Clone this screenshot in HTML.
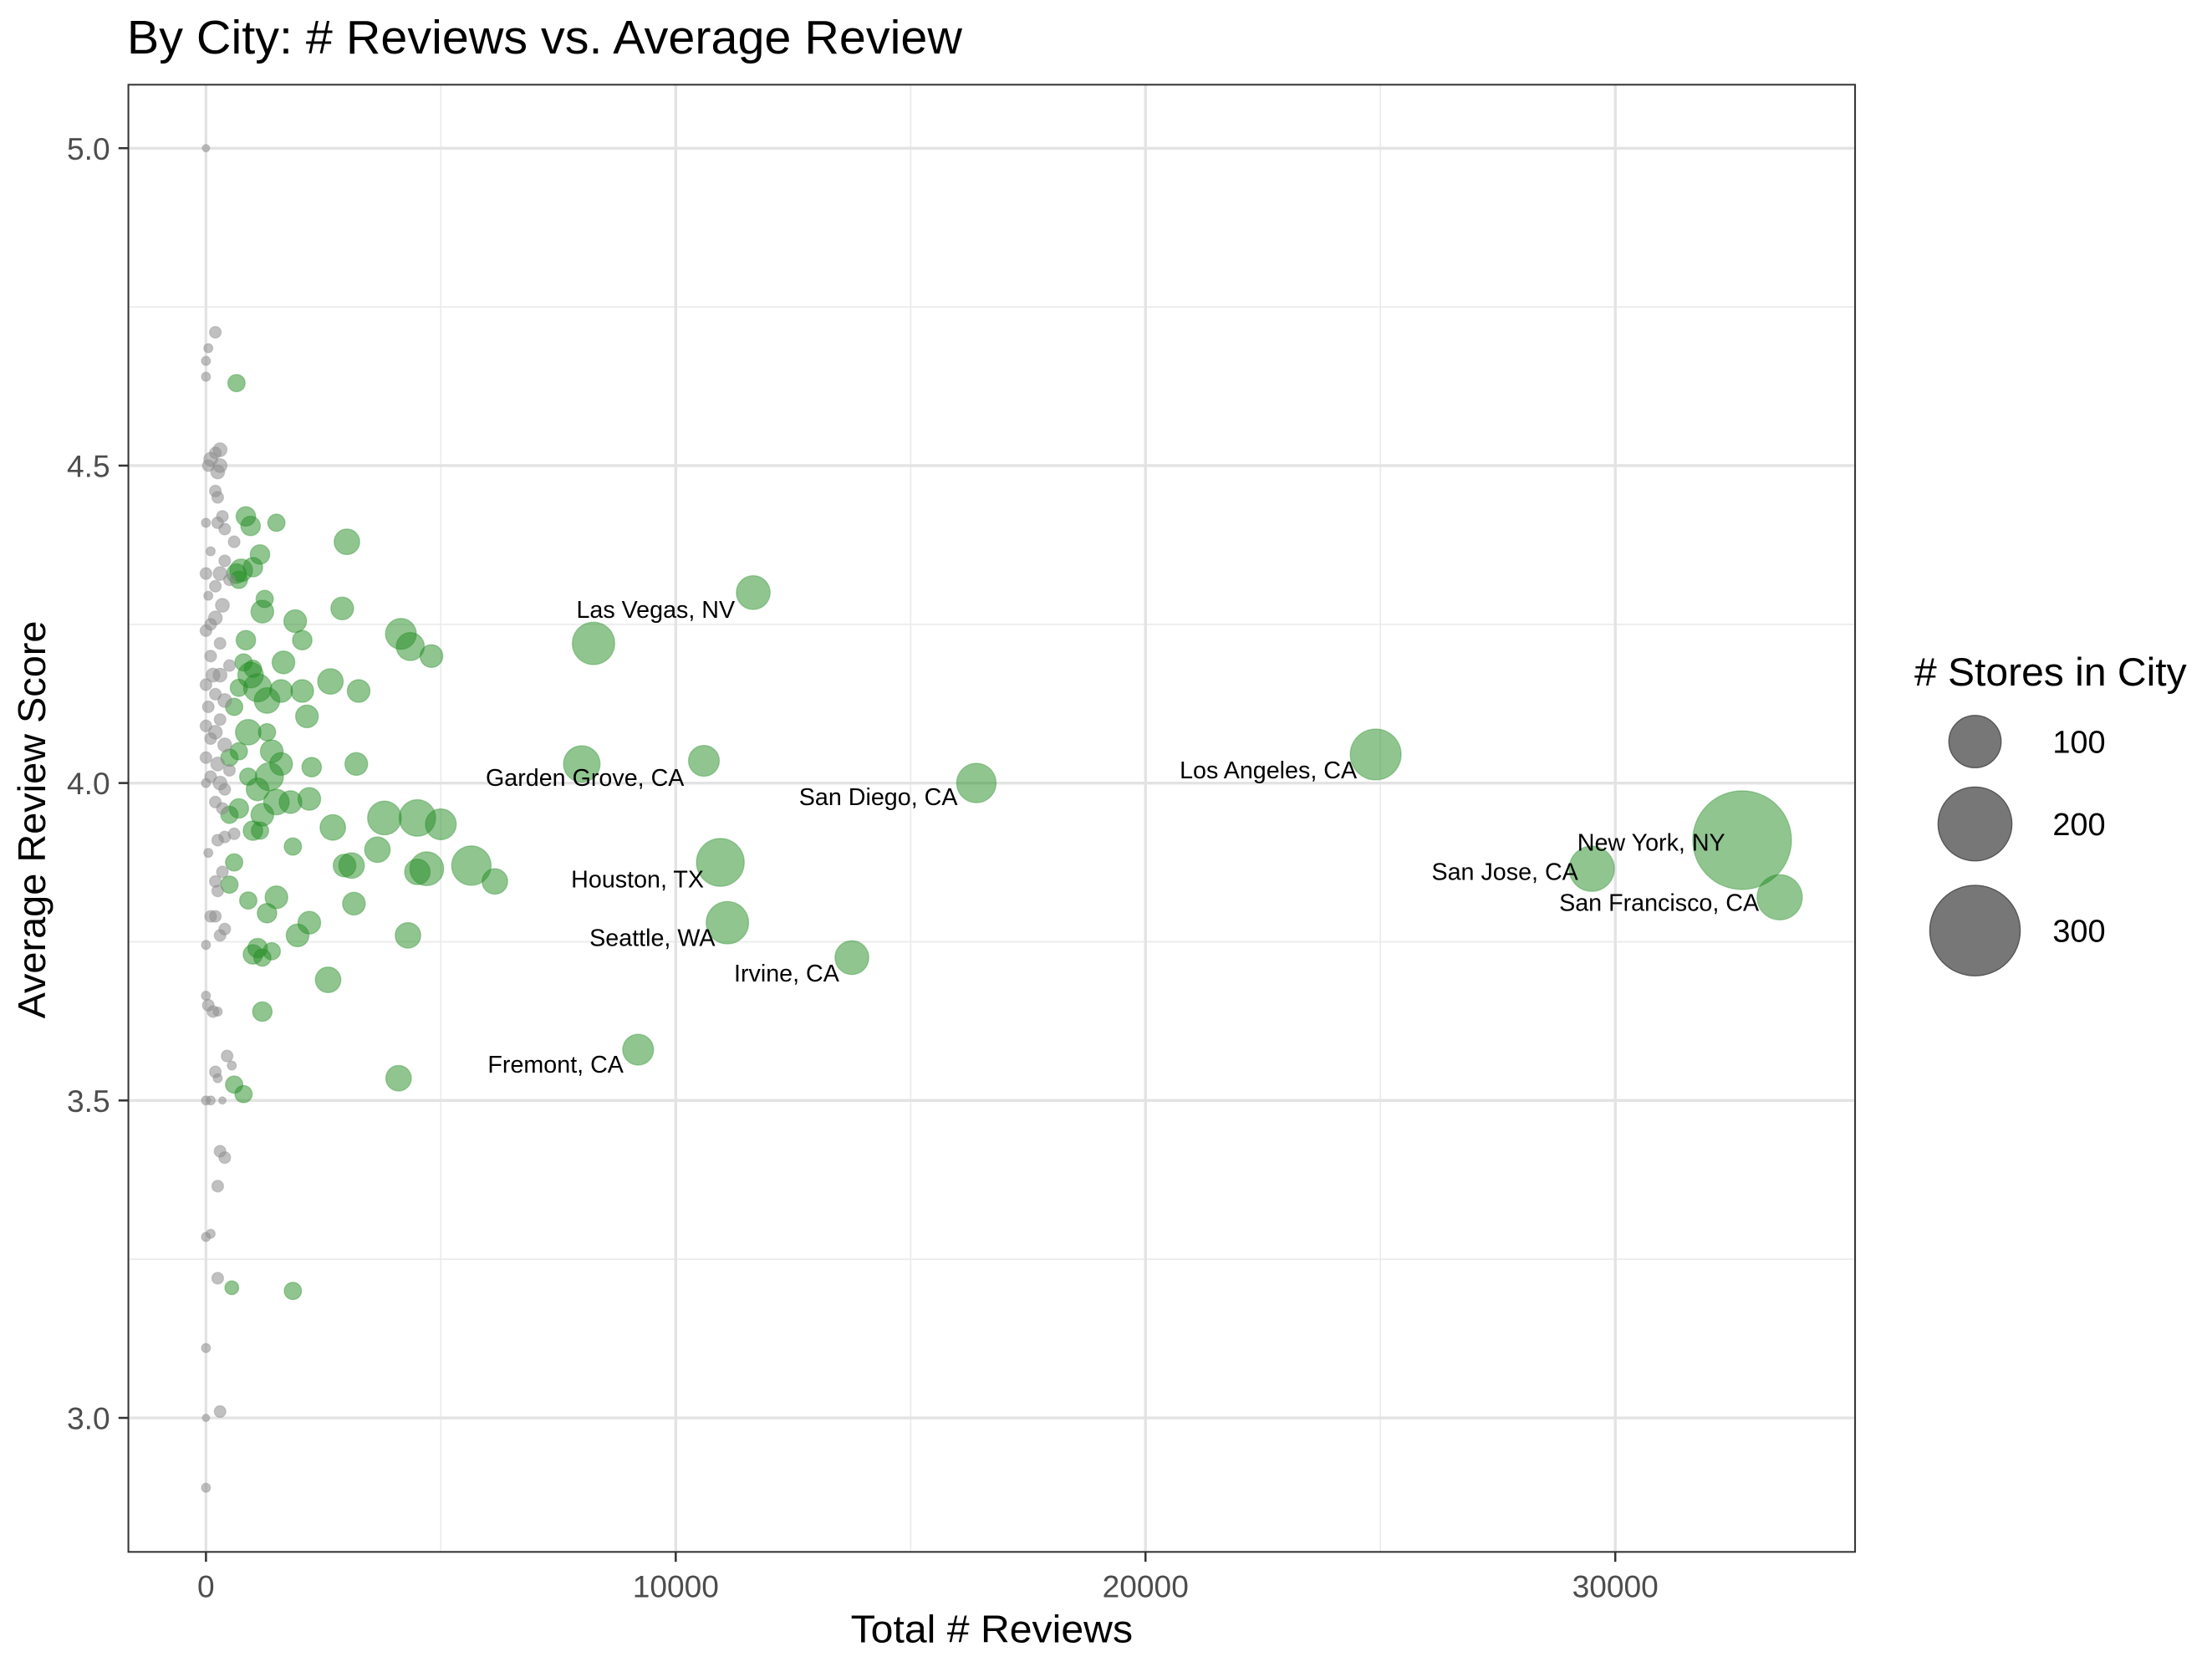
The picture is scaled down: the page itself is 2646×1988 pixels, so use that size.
<!DOCTYPE html>
<html><head><meta charset="utf-8"><style>
html,body{margin:0;padding:0;background:#fff;}
svg{display:block;font-family:"Liberation Sans",Arial,sans-serif;}
</style></head><body>
<svg id="chart" width="2646" height="1988" viewBox="0 0 1568 1178" xmlns="http://www.w3.org/2000/svg">
<rect width="1568" height="1178" fill="#fff"/>
<text x="90" y="38" font-size="33.5" fill="#000" textLength="592" lengthAdjust="spacingAndGlyphs">By City: # Reviews vs. Average Review</text>
<g id="grid"></g>
<g id="points"></g>
<g id="labels"></g>
<rect x="91" y="60" width="1224" height="1040" fill="none" stroke="#333" stroke-width="1.2"/>
<g id="axes"></g>
<text x="703" y="1164" font-size="27.5" text-anchor="middle" fill="#000" textLength="200" lengthAdjust="spacingAndGlyphs">Total # Reviews</text>
<text transform="translate(32,581) rotate(-90)" font-size="27.5" text-anchor="middle" fill="#000" textLength="282" lengthAdjust="spacingAndGlyphs">Average Review Score</text>
<g id="legend">
<text x="1357" y="486" font-size="28" fill="#000" textLength="193" lengthAdjust="spacingAndGlyphs"># Stores in City</text>
</g>
</svg>
<script>
const xs=[0,200,50,0,0,300,200,100,300,50,250,200,250,350,250,0,400,600,100,0,400,300,500,200,50,350,200,100,0,300,100,500,150,300,0,200,400,50,300,0,200,100,400,0,250,500,100,300,0,400,200,350,600,400,250,50,350,200,250,100,200,400,300,0,0,50,150,250,450,550,200,250,0,100,350,300,400,250,100,0,250,0,300,0,0,
8250,11650,8000,10600,16400,24900,32700,29500,33500,10950,11100,13750,9200,
4150,4350,4800,3000,2900,1900,2650,3250,3800,4500,5000,5650,4700,4500,6150,3650,3100,2950,3150,2700,2200,4300,2200,1950,2600,4100,3200,2250,2050,1650,2050,2150,1600,1200,1500,850,950,1150,650,1200,1500,1300,1100,1000,1400,1200,1850,800,600,550,1850,1300,1100,900,1400,1600,1350,1100,1500,1800,700,500,1200,1000,1150,600,500,900,1250,950,850,750,650,1000,700,800,700,600,500,900,700,1000,1300];
const ys=[5.0,4.71,4.685,4.665,4.64,4.525,4.52,4.51,4.5,4.5,4.49,4.46,4.45,4.42,4.41,4.41,4.4,4.38,4.365,4.33,4.35,4.33,4.32,4.31,4.295,4.28,4.26,4.25,4.24,4.22,4.2,4.185,4.17,4.17,4.155,4.14,4.13,4.12,4.1,4.09,4.08,4.07,4.06,4.04,4.03,4.02,4.01,4.0,4.0,3.99,3.97,3.96,3.92,3.915,3.91,3.89,3.86,3.845,3.83,3.79,3.79,3.77,3.76,3.745,3.665,3.65,3.64,3.64,3.57,3.555,3.545,3.535,3.5,3.5,3.5,3.42,3.41,3.365,3.29,3.285,3.22,3.11,3.01,3.0,2.89,
4.22,4.30,4.03,4.035,4.0,4.045,3.91,3.865,3.82,3.875,3.78,3.725,3.58,
4.235,4.215,4.2,4.38,4.275,4.255,4.16,4.145,3.945,3.945,3.935,3.87,3.865,3.86,3.845,3.895,3.87,3.87,3.81,3.93,3.975,3.76,3.78,3.76,3.69,3.535,4.03,4.025,4.145,4.19,4.225,4.105,4.145,4.27,4.41,4.42,4.405,4.36,4.63,3.64,3.82,3.795,3.74,3.73,3.735,3.725,3.9,3.51,3.525,3.205,3.2,4.13,4.15,4.08,4.05,4.03,4.01,3.99,3.97,3.97,3.96,3.95,3.95,3.925,3.925,3.875,3.84,3.815,4.29,4.17,4.225,4.335,4.33,4.34,4.32,4.19,4.15,4.12,4.04,4.01,4.05,4.18,4.08];
const stores=[2,5,3,3,3,7,5,7,7,5,7,5,5,5,5,3,5,5,3,5,5,7,5,5,3,7,7,5,5,5,5,5,7,7,5,5,7,5,5,5,7,5,7,5,7,5,5,7,3,5,5,5,5,5,5,3,5,5,5,5,5,5,5,3,3,5,5,3,5,3,5,3,3,3,2,5,5,5,3,3,5,3,5,2,3,
66,42,49,35,57,95,358,75,75,84,66,42,35,
35,29,19,24,19,19,24,19,42,49,35,57,42,24,24,24,24,19,19,24,19,24,19,19,24,24,19,14,19,19,14,19,19,19,11,14,14,14,11,14,19,14,14,14,11,11,11,11,11,7,11,24,29,24,19,19,29,19,24,19,14,11,19,14,11,11,11,11,11,24,14,19,14,14,11,11,11,11,11,11,11,11,11,19];
const groups=[];for(let i=0;i<xs.length;i++)groups.push(i<85?'small':'large');
const cityNames=["Las Vegas, NV","Garden Grove, CA","San Diego, CA","Los Angeles, CA","New York, NY","San Jose, CA","San Francisco, CA","Houston, TX","Seattle, WA","Irvine, CA","Fremont, CA"];
const labelX=[11260,10180,16000,24500,32340,29210,33060,10600,10840,13480,8890];
const labelY=[4.265,4.0,3.97,4.012,3.898,3.852,3.803,3.84,3.748,3.692,3.548];
const xTicks=[0,10000,20000,30000];
const xMinor=[5000,15000,25000];
const yTicks=[3.0,3.5,4.0,4.5,5.0];
const yMinor=[3.25,3.75,4.25,4.75];
const legendVals=[100,200,300];

const NS="http://www.w3.org/2000/svg";
const X=v=>146+v*0.0333;
const Y=v=>105+(5-v)*450;
const R=n=>1.85*Math.sqrt(n);
function mk(tag,attrs,parent){const e=document.createElementNS(NS,tag);for(const k in attrs)e.setAttribute(k,attrs[k]);parent.appendChild(e);return e;}
const grid=document.getElementById('grid');
mk('rect',{x:91,y:60,width:1224,height:1040,fill:'#fff'},grid);
yMinor.forEach(v=>{const l=mk('line',{x1:91,x2:1315,y1:Y(v),y2:Y(v),stroke:'#ebebeb','stroke-width':1},grid);

});
xMinor.forEach(v=>{const l=mk('line',{x1:X(v),x2:X(v),y1:60,y2:1100,stroke:'#ebebeb','stroke-width':1},grid);

});
yTicks.forEach(v=>{const l=mk('line',{x1:91,x2:1315,y1:Y(v),y2:Y(v),stroke:'#e3e3e3','stroke-width':2},grid);

});
xTicks.forEach(v=>{const l=mk('line',{x1:X(v),x2:X(v),y1:60,y2:1100,stroke:'#e3e3e3','stroke-width':2},grid);

});
const axes=document.getElementById('axes');
xTicks.forEach(v=>{mk('line',{x1:X(v),x2:X(v),y1:1100,y2:1107,stroke:'#333','stroke-width':1.5},axes);
const t=mk('text',{x:X(v),y:1132,'font-size':22,'text-anchor':'middle',fill:'#4d4d4d'},axes);t.textContent=String(v);

});
yTicks.forEach(v=>{mk('line',{x1:84,x2:91,y1:Y(v),y2:Y(v),stroke:'#333','stroke-width':1.5},axes);
const t=mk('text',{x:78,y:Y(v)+8,'font-size':22,'text-anchor':'end',fill:'#4d4d4d'},axes);t.textContent=v.toFixed(1);

});
const pts=document.getElementById('points');
const order=xs.map((_,i)=>i).sort((a,b)=>stores[b]-stores[a]);
order.forEach(i=>{const big=groups[i]==='large';
const c=mk('circle',{cx:X(xs[i]),cy:Y(ys[i]),r:R(stores[i]),fill:big?'#228b22':'#8c8c8c','fill-opacity':big?0.5:0.55,stroke:big?'#228b22':'#8c8c8c','stroke-opacity':0.35,'stroke-width':0.8},pts);

});
const lab=document.getElementById('labels');
cityNames.forEach((n,i)=>{const t=mk('text',{x:X(labelX[i]),y:Y(labelY[i])+2,'font-size':17,'text-anchor':'end',fill:'#000'},lab);t.textContent=n;

});
const leg=document.getElementById('legend');
const ly=[525.6,584,659.6];
legendVals.forEach((v,i)=>{const c=mk('circle',{cx:1400,cy:ly[i],r:R(v),fill:'#777',stroke:'#555','stroke-width':0.8},leg);


const t=mk('text',{x:1455,y:ly[i]+8,'font-size':22.5,fill:'#000'},leg);t.textContent=String(v);

});
</script>
</body></html>
